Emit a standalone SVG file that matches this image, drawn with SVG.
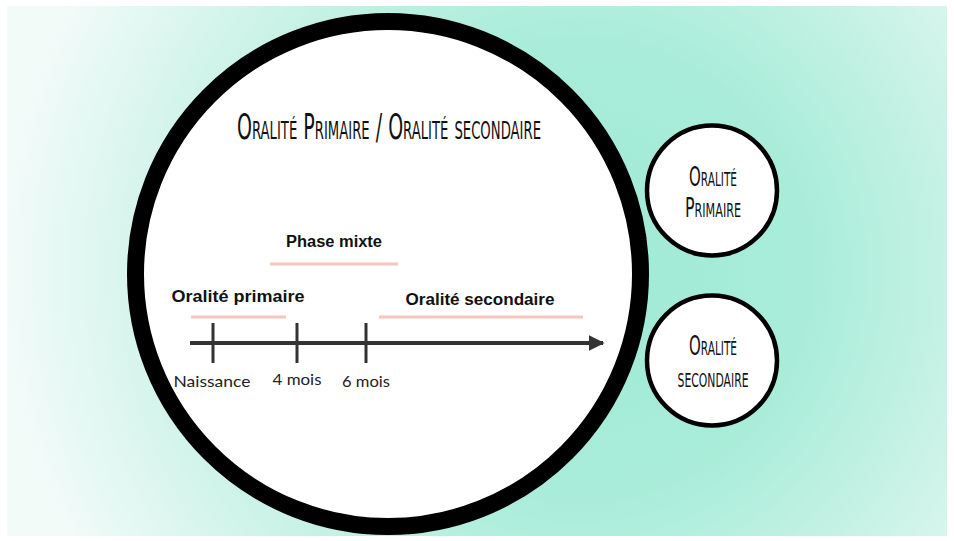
<svg xmlns="http://www.w3.org/2000/svg" width="954" height="541" viewBox="0 0 954 541">
  <defs>
    <radialGradient id="bg" gradientUnits="userSpaceOnUse" cx="580" cy="270" r="580">
      <stop offset="0" stop-color="#9feAd4"/>
      <stop offset="0.4" stop-color="#a9edd9"/>
      <stop offset="0.7" stop-color="#cdf3e8"/>
      <stop offset="1" stop-color="#f3fbf9"/>
    </radialGradient>
    <marker id="arrow" viewBox="0 0 10 10" refX="9" refY="5" markerWidth="4" markerHeight="4" orient="auto" markerUnits="strokeWidth">
      <path d="M0,0 L10,5 L0,10 Z" fill="#333333"/>
    </marker>
  </defs>
  <style>
    .hand { font-family: "Liberation Sans Narrow", "DejaVu Sans Condensed", "Liberation Sans", sans-serif; font-variant: small-caps; fill: #111; }
    .bold { font-family: "Liberation Sans", "Open Sans", sans-serif; font-weight: bold; fill: #111; }
    .lbl { font-family: "Lato", "Liberation Sans", sans-serif; font-size: 15px; fill: #222; }
    .pink { stroke: #f5c6ba; stroke-width: 3; }
    .tick { stroke: #333333; stroke-width: 3; }
    .node { fill: #ffffff; stroke: #000000; }
  </style>
  <rect x="7" y="6" width="940" height="530" fill="url(#bg)"/>

  <g id="main">
    <circle class="node" cx="388" cy="274" r="252.5" stroke-width="17"/>
    <text class="hand" x="389" y="139" font-size="36" text-anchor="middle" textLength="304" lengthAdjust="spacingAndGlyphs">Oralité Primaire / Oralité secondaire</text>
  </g>

  <g id="node-primaire">
    <circle class="node" cx="712" cy="190.5" r="65" stroke-width="4.5"/>
    <text class="hand" x="713" y="186" font-size="27" text-anchor="middle" textLength="48" lengthAdjust="spacingAndGlyphs">Oralité</text>
    <text class="hand" x="713" y="217" font-size="27" text-anchor="middle" textLength="56" lengthAdjust="spacingAndGlyphs">Primaire</text>
  </g>

  <g id="node-secondaire">
    <circle class="node" cx="712" cy="360.5" r="65" stroke-width="4.5"/>
    <text class="hand" x="713" y="355" font-size="27" text-anchor="middle" textLength="48" lengthAdjust="spacingAndGlyphs">Oralité</text>
    <text class="hand" x="713" y="387" font-size="27" text-anchor="middle" textLength="71" lengthAdjust="spacingAndGlyphs">secondaire</text>
  </g>

  <g id="timeline">
    <line class="pink" x1="270" y1="264" x2="398" y2="264"/>
    <line class="pink" x1="191" y1="317" x2="286" y2="317"/>
    <line class="pink" x1="379" y1="317" x2="583" y2="317"/>
    <text class="bold" x="334" y="247" font-size="16" text-anchor="middle" textLength="96" lengthAdjust="spacingAndGlyphs">Phase mixte</text>
    <text class="bold" x="238" y="302" font-size="16" text-anchor="middle" textLength="133" lengthAdjust="spacingAndGlyphs">Oralité primaire</text>
    <text class="bold" x="480" y="305" font-size="16" text-anchor="middle" textLength="149" lengthAdjust="spacingAndGlyphs">Oralité secondaire</text>
  </g>

  <g id="connectors">
    <line x1="190" y1="343" x2="603" y2="343" stroke="#333333" stroke-width="4" marker-end="url(#arrow)"/>
    <line class="tick" x1="213" y1="323" x2="213" y2="363"/>
    <line class="tick" x1="297" y1="323" x2="297" y2="363"/>
    <line class="tick" x1="366" y1="323" x2="366" y2="363"/>
  </g>

  <g id="labels">
    <text class="lbl" x="212" y="387" text-anchor="middle" textLength="77" lengthAdjust="spacingAndGlyphs">Naissance</text>
    <text class="lbl" x="297" y="385" text-anchor="middle" textLength="49" lengthAdjust="spacingAndGlyphs">4 mois</text>
    <text class="lbl" x="366" y="387" text-anchor="middle" textLength="48" lengthAdjust="spacingAndGlyphs">6 mois</text>
  </g>
</svg>
